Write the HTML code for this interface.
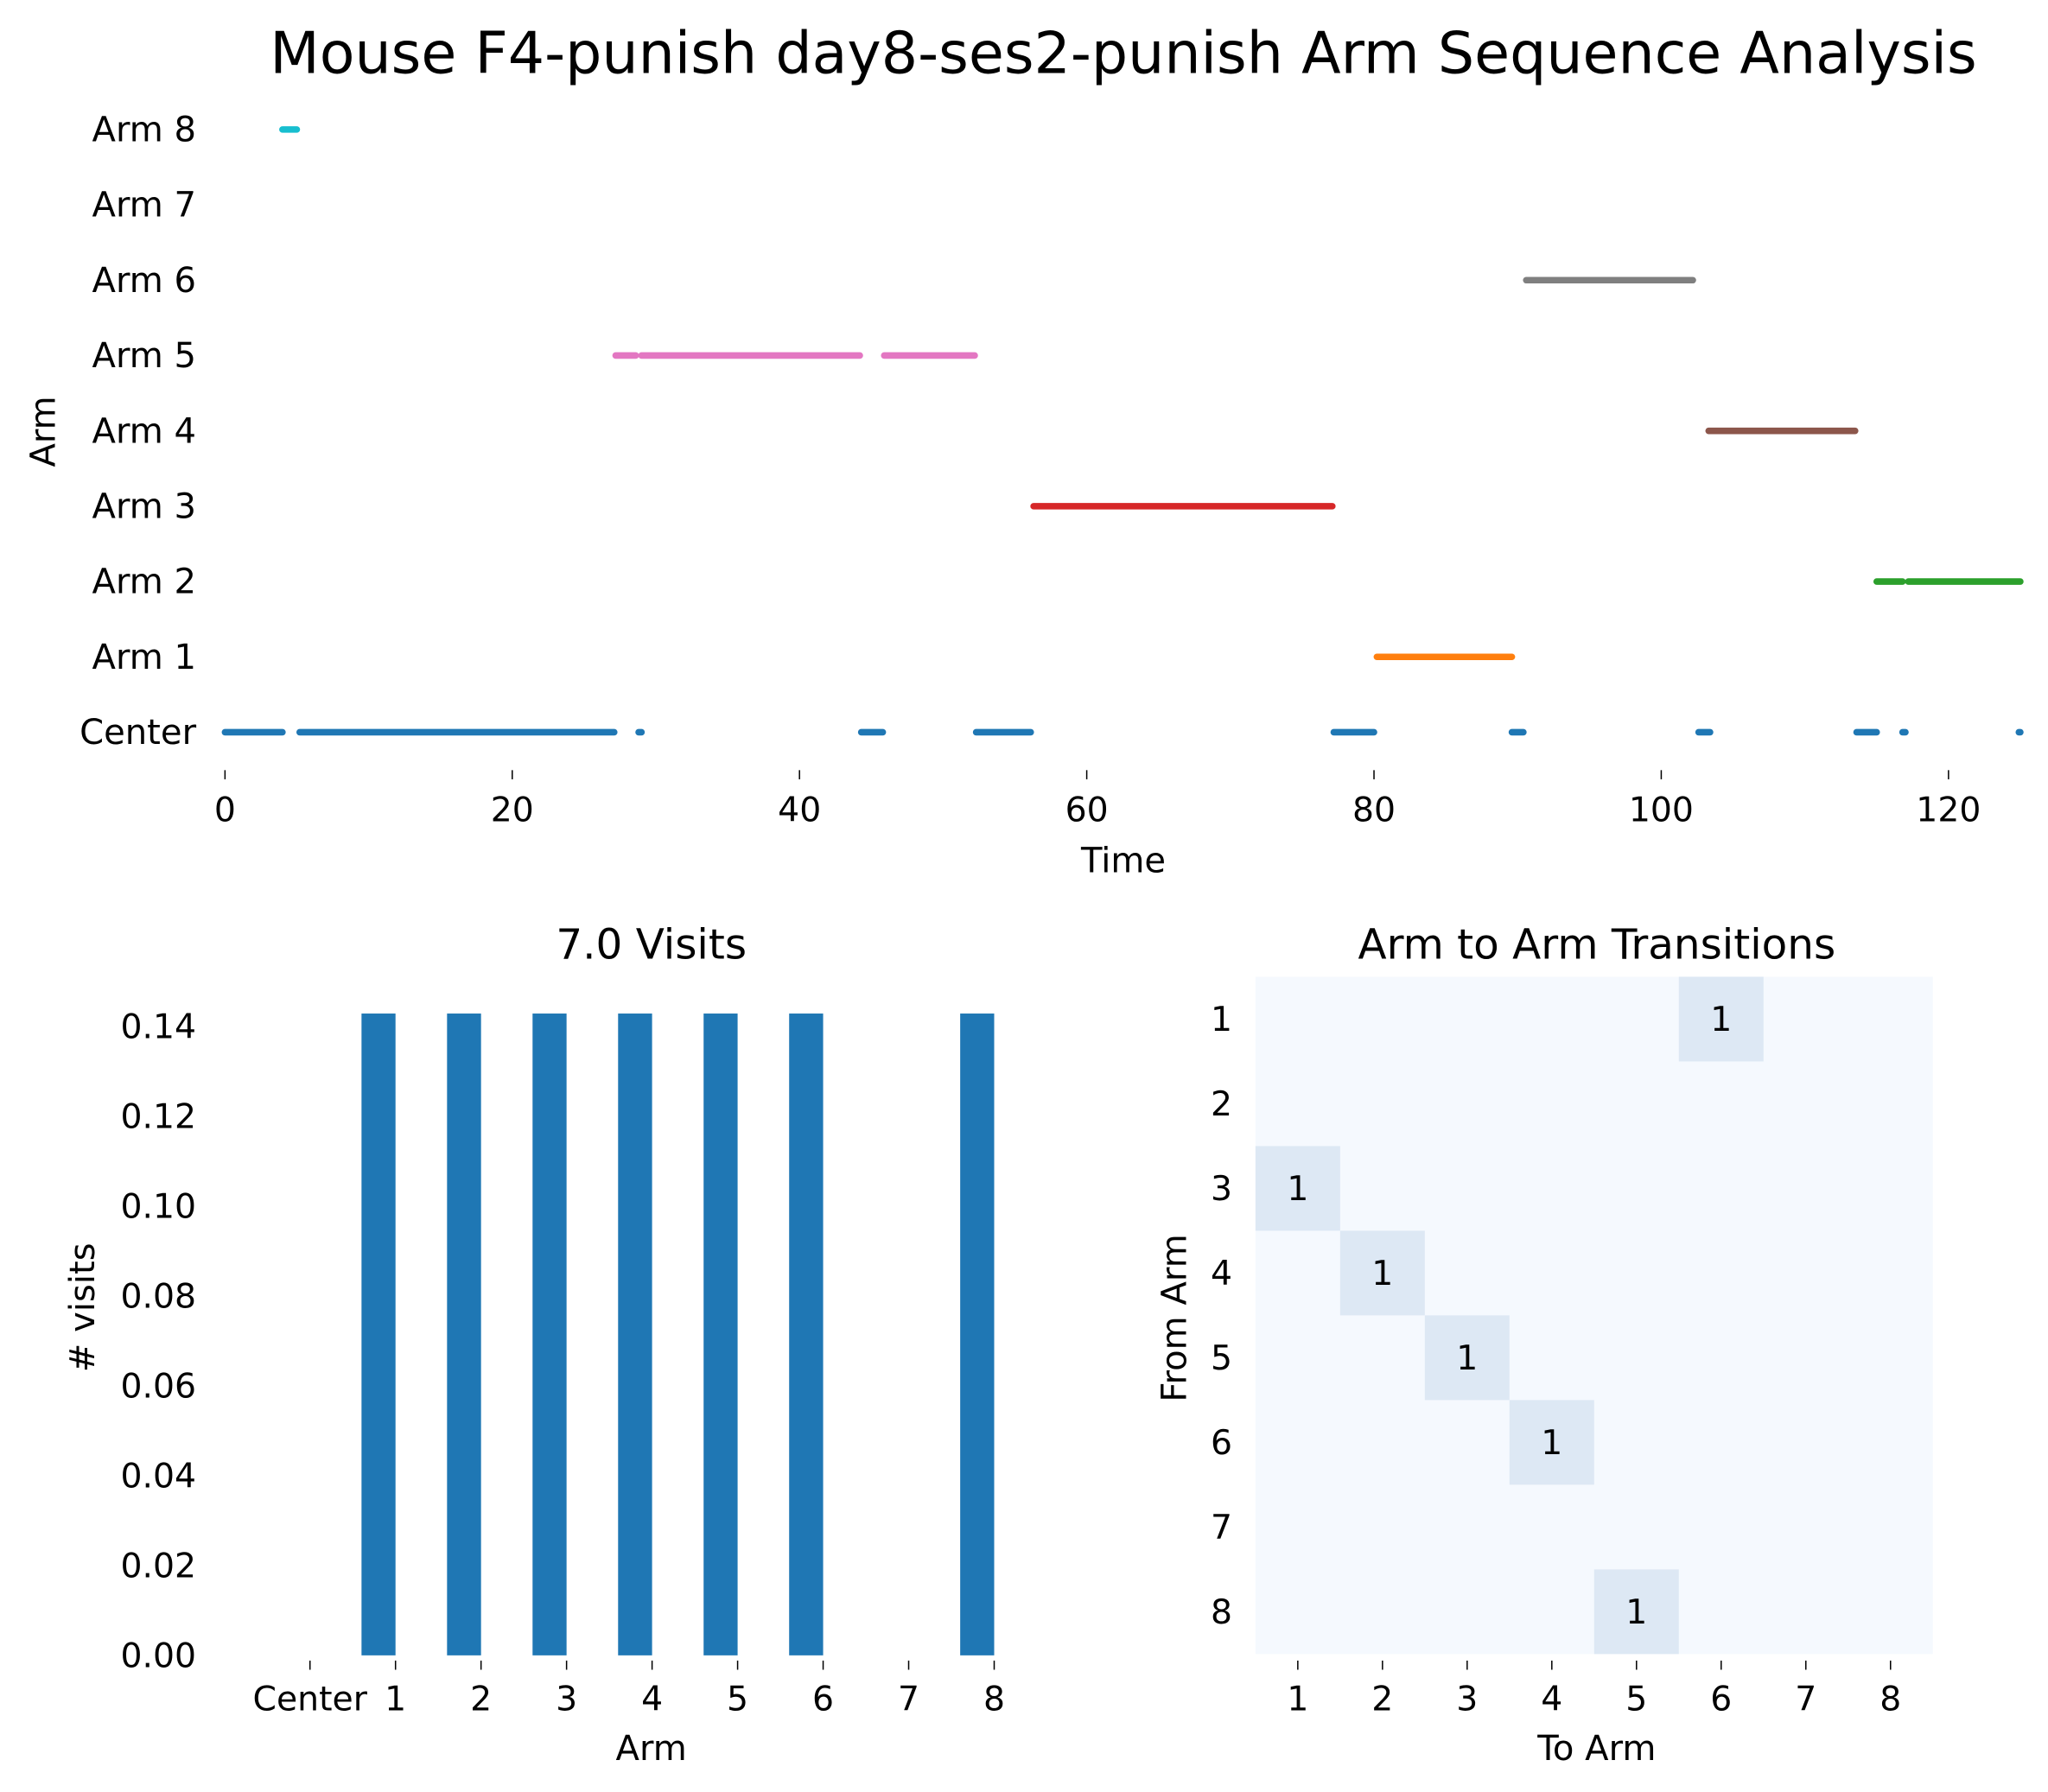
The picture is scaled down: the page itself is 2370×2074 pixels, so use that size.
<!DOCTYPE html>
<html><head><meta charset="utf-8"><style>
html,body{margin:0;padding:0;background:#fff;}
svg{display:block;font-family:"DejaVu Sans","Liberation Sans",sans-serif;}
</style></head><body>
<svg id="fig" width="2370" height="2074" viewBox="0 0 1566 1370.5" xmlns="http://www.w3.org/2000/svg">
<text x="859" y="56" font-size="44" text-anchor="middle">Mouse F4-punish day8-ses2-punish Arm Sequence Analysis</text>
<g id="topchart"></g>
<text x="859" y="667" font-size="26.5" text-anchor="middle">Time</text>
<text transform="translate(42,330) rotate(-90)" font-size="26.5" text-anchor="middle">Arm</text>
<text x="498" y="733" font-size="32" text-anchor="middle">7.0 Visits</text>
<g id="bars"></g>
<text x="498" y="1346" font-size="26.5" text-anchor="middle">Arm</text>
<text transform="translate(72,1000) rotate(-90)" font-size="26.5" text-anchor="middle"># visits</text>
<text x="1221" y="733" font-size="32" text-anchor="middle">Arm to Arm Transitions</text>
<g id="heat"></g>
<text x="1221" y="1346" font-size="26.5" text-anchor="middle">To Arm</text>
<text transform="translate(907,1008) rotate(-90)" font-size="26.5" text-anchor="middle">From Arm</text>
</svg>
<script>
const NS="http://www.w3.org/2000/svg";
function mk(tag,attrs,parent,txt){const e=document.createElementNS(NS,tag);for(const k in attrs)e.setAttribute(k,attrs[k]);if(txt!==undefined)e.textContent=txt;parent.appendChild(e);return e;}

// ---- top chart data ----
const rowLabels=["Center","Arm 1","Arm 2","Arm 3","Arm 4","Arm 5","Arm 6","Arm 7","Arm 8"];
const rowColors=["#1f77b4","#ff7f0e","#2ca02c","#d62728","#8c564b","#e377c2","#7f7f7f","#bcbd22","#17becf"];
const segRows=[0,0,0,0,0,0,0,0,0,0,0,8,5,5,5,3,1,6,4,2,2];
const segStart=[0,5.2,28.8,44.3,52.3,77.2,89.6,102.6,113.6,116.8,124.9,4,27.2,29,45.9,56.3,80.2,90.6,103.3,115,117.2];
const segEnd=[4,27.1,29,45.8,56.1,80,90.4,103.4,115,117,125,5,28.6,44.2,52.2,77.1,89.6,102.2,113.5,116.8,125];
const timeTicks=[0,20,40,60,80,100,120];
const tx=v=>172+v*10.983;
const ty=r=>560-r*57.62;
const topG=document.getElementById('topchart');
rowLabels.forEach((l,i)=>{const t=mk('text',{x:150,y:ty(i)+9,'font-size':26.5,'text-anchor':'end'},topG,l);

});
segRows.forEach((r,i)=>{const ln=mk('line',{x1:tx(segStart[i]),x2:tx(segEnd[i]),y1:ty(r),y2:ty(r),stroke:rowColors[r],'stroke-width':5,'stroke-linecap':'round'},topG);

});
timeTicks.forEach(v=>{const g=mk('g',{},topG);


mk('line',{x1:tx(v),x2:tx(v),y1:589,y2:596,stroke:'#000','stroke-width':1},g);
mk('text',{x:tx(v),y:628,'font-size':26,'text-anchor':'middle'},g,String(v));});

// ---- bar chart data ----
const barCats=["Center","1","2","3","4","5","6","7","8"];
const barVals=[0,1/7,1/7,1/7,1/7,1/7,1/7,0,1/7];
const yTicks=[0,0.02,0.04,0.06,0.08,0.10,0.12,0.14];
const bx=i=>237+i*65.4;
const by=v=>1266-v*3436;
const bars=document.getElementById('bars');
yTicks.forEach(v=>{const t=mk('text',{x:150,y:by(v)+9,'font-size':26,'text-anchor':'end'},bars,v.toFixed(2));

});
barVals.forEach((v,i)=>{if(v<=0)return;const r=mk('rect',{x:bx(i)-26,y:by(v),width:26,height:by(0)-by(v),fill:'#1f77b4'},bars);

});
barCats.forEach((c,i)=>{const g=mk('g',{},bars);


mk('line',{x1:bx(i),x2:bx(i),y1:1270,y2:1277,stroke:'#000','stroke-width':1},g);
mk('text',{x:bx(i),y:1308,'font-size':26,'text-anchor':'middle'},g,c);});

// ---- heatmap data ----
const armLabels=["1","2","3","4","5","6","7","8"];
const transFrom=[1,3,4,5,6,8];
const transTo=[6,1,2,3,4,5];
const transCount=[1,1,1,1,1,1];
const hx0=960,hy0=747,cw=64.75,ch=64.75;
const heat=document.getElementById('heat');
const bg=mk('rect',{x:hx0,y:hy0,width:cw*8,height:ch*8,fill:'#f5f9fe'},heat);


transFrom.forEach((f,i)=>{const g=mk('g',{},heat);


const x=hx0+(transTo[i]-1)*cw,y=hy0+(f-1)*ch;
mk('rect',{x:x,y:y,width:cw,height:ch,fill:'#dde8f4'},g);
mk('text',{x:x+cw/2,y:y+ch/2+9,'font-size':26,'text-anchor':'middle'},g,String(transCount[i]));});
armLabels.forEach((l,i)=>{const g=mk('g',{},heat);


const cx=hx0+(i+0.5)*cw;
mk('line',{x1:cx,x2:cx,y1:1270,y2:1277,stroke:'#000','stroke-width':1},g);
mk('text',{x:cx,y:1308,'font-size':26,'text-anchor':'middle'},g,l);
const t=mk('text',{x:934,y:hy0+(i+0.5)*ch+9,'font-size':26,'text-anchor':'middle'},heat,l);

});
</script>
</body></html>
